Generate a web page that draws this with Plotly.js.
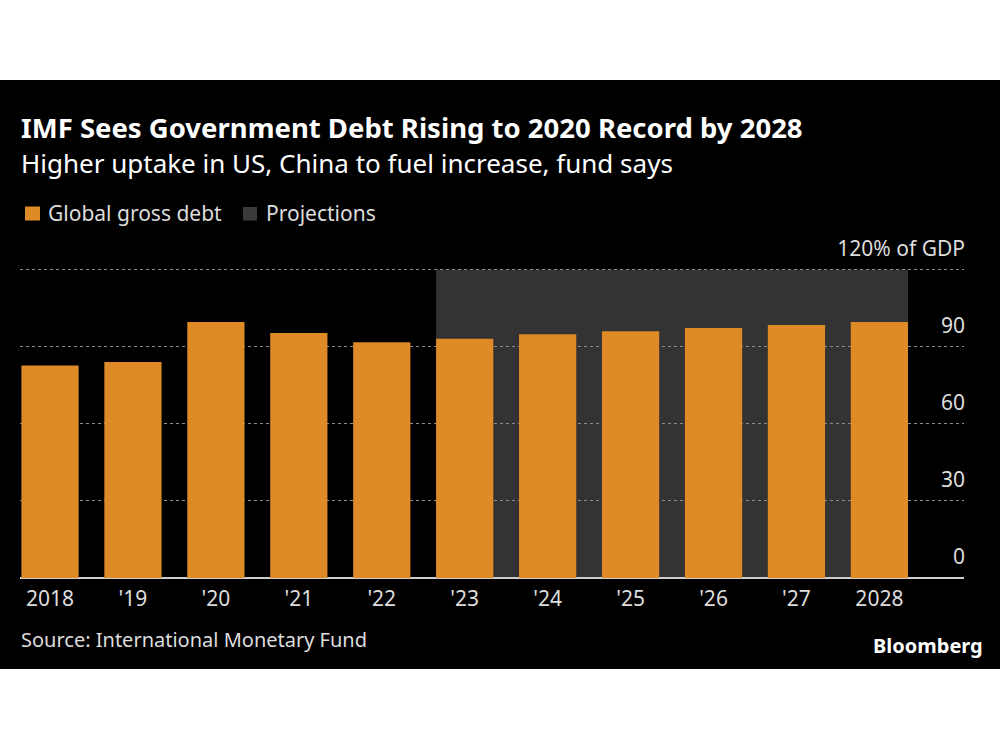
<!DOCTYPE html>
<html><head><meta charset="utf-8">
<script src="https://cdn.plot.ly/plotly-3.0.1.min.js"></script>
<style>
html,body{margin:0;padding:0;background:#fff;width:1000px;height:750px;overflow:hidden;}
#bg{position:absolute;left:0;top:80px;width:1000px;height:589px;background:#000;}
#chart{position:absolute;left:0;top:0;width:1000px;height:750px;}
</style></head>
<body>
<div id="bg"></div>
<div id="chart"></div>
<script>
const years = ['2018', "'19", "'20", "'21", "'22", "'23", "'24", "'25", "'26", "'27", '2028'];
const debt = [82.7, 84.0, 99.6, 95.3, 91.7, 93.1, 94.8, 96.0, 97.3, 98.4, 99.6];
const projectionStart = "'23";
const projectionEnd = '2028';
const yTicks = [0, 30, 60, 90, 120];
const yTickText = ['0', '30', '60', '90', '120% of GDP'];
const legendLabels = ['Global gross debt', 'Projections'];

const FONT = '"Noto Sans", Lato, sans-serif';
const ORANGE = '#DD8A27';
const SHADE = '#333333';
const LEG_GRAY = '#3a3a3a';
const bargap = 0.31;
const half = (1 - bargap) / 2;
const i0 = years.indexOf(projectionStart), i1 = years.indexOf(projectionEnd);

// pixel helpers for paper-referenced decorations (plot area: x 20..964, y 267..578)
const PL = 20, PW = 944, PB = 578, PH = 311;
const px = v => (v - PL) / PW;
const py = v => (PB - v) / PH;

const data = [{
  type: 'bar', x: years, y: debt, name: legendLabels[0],
  marker: {color: ORANGE}, showlegend: false, hoverinfo: 'x+y'
}];

const layout = {
  width: 1000, height: 750,
  paper_bgcolor: 'rgba(0,0,0,0)', plot_bgcolor: 'rgba(0,0,0,0)',
  margin: {l: 20, r: 36, t: 267, b: 172},
  bargap: bargap,
  showlegend: false,
  font: {family: FONT, color: '#dddddd', size: 21},
  title: {text: '<b>IMF Sees Government Debt Rising to 2020 Record by 2028</b>',
    font: {family: FONT, size: 27.5, color: '#ffffff'},
    xref: 'container', yref: 'container', x: 0.021, xanchor: 'left', y: 1 - 128/750, yanchor: 'middle'},
  xaxis: {type: 'category', range: [-0.3617, 11.02], showgrid: false, showline: false,
    tickfont: {family: FONT, size: 21, color: '#dddddd'}, ticks: '', ticklabelstandoff: 6, fixedrange: true},
  yaxis: {range: [0, 121], tickvals: yTicks, ticktext: yTickText, side: 'right',
    ticklabelposition: 'inside', ticklabelshift: -21, ticklabelstandoff: -4, ticklabeloverflow: 'allow', ticks: '',
    showgrid: true, gridcolor: '#8a8a8a', griddash: '3px,3px', gridwidth: 1,
    zeroline: true, zerolinecolor: '#cccccc', zerolinewidth: 1.5,
    tickfont: {family: FONT, size: 21, color: '#dddddd'}, fixedrange: true},
  shapes: [
    {type: 'rect', xref: 'x', yref: 'y', x0: i0 - half, x1: i1 + half, y0: 0, y1: 120,
      fillcolor: SHADE, line: {width: 0}, layer: 'below'},
    {type: 'rect', xref: 'paper', yref: 'paper', x0: px(25), x1: px(40), y0: py(220.5), y1: py(206.5),
      fillcolor: ORANGE, line: {width: 0}, layer: 'above'},
    {type: 'rect', xref: 'paper', yref: 'paper', x0: px(243), x1: px(257), y0: py(220.5), y1: py(207),
      fillcolor: LEG_GRAY, line: {width: 0}, layer: 'above'}
  ],
  annotations: [
    {text: 'Higher uptake in US, China to fuel increase, fund says', xref: 'paper', yref: 'paper',
      x: px(19), y: py(163), xanchor: 'left', yanchor: 'middle', showarrow: false,
      font: {family: FONT, size: 26, color: '#ffffff'}},
    {text: legendLabels[0], xref: 'paper', yref: 'paper',
      x: px(46), y: py(213), xanchor: 'left', yanchor: 'middle', showarrow: false,
      font: {family: FONT, size: 21, color: '#dddddd'}},
    {text: legendLabels[1], xref: 'paper', yref: 'paper',
      x: px(264), y: py(213), xanchor: 'left', yanchor: 'middle', showarrow: false,
      font: {family: FONT, size: 21, color: '#dddddd'}},
    {text: 'Source: International Monetary Fund', xref: 'paper', yref: 'paper',
      x: px(19), y: py(639), xanchor: 'left', yanchor: 'middle', showarrow: false,
      font: {family: FONT, size: 20, color: '#dddddd'}},
    {text: '<b>Bloomberg</b>', xref: 'paper', yref: 'paper',
      x: px(985), y: py(645), xanchor: 'right', yanchor: 'middle', showarrow: false,
      font: {family: FONT, size: 20, color: '#ffffff'}}
  ]
};
Plotly.newPlot('chart', data, layout, {displayModeBar: false});
</script>
</body></html>
